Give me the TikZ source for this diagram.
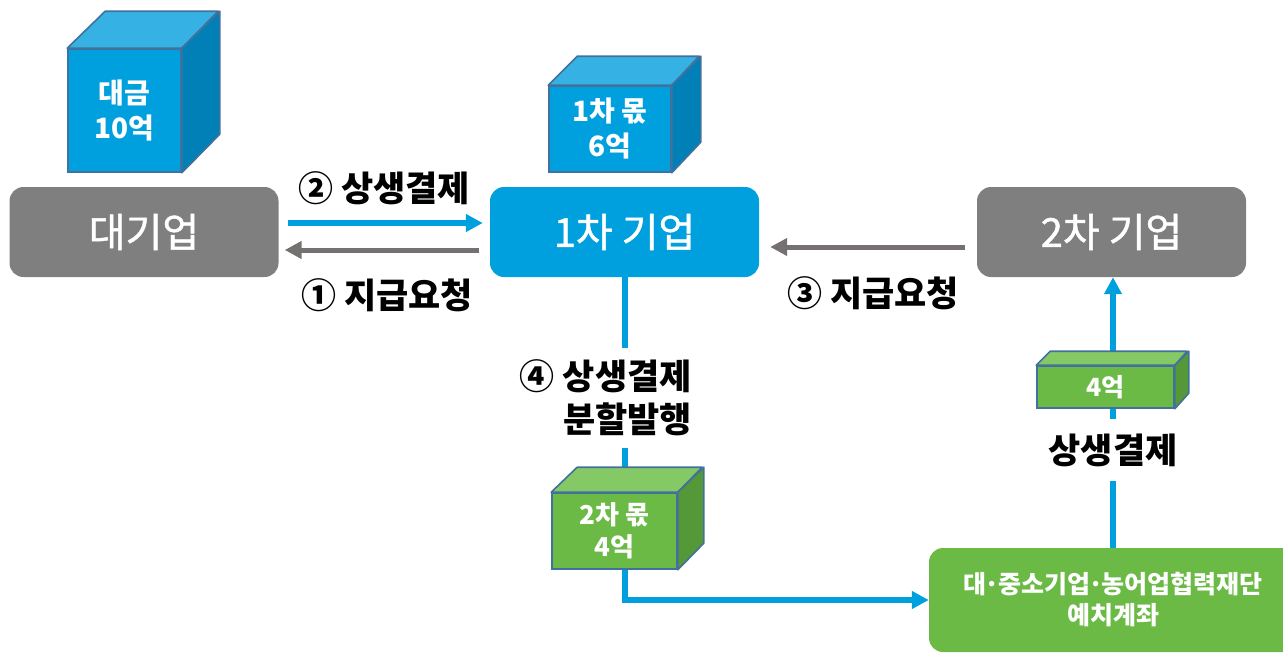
\documentclass[tikz,border=0pt]{standalone}
\usepackage{fontspec}
\setmainfont{Noto Sans CJK KR}
\newfontfamily\krmed{Noto Sans CJK KR}[FakeBold=1.2]
\usetikzlibrary{arrows.meta}
\definecolor{cblue}{RGB}{0,160,223}
\definecolor{cbluetop}{RGB}{53,177,227}
\definecolor{cblueside}{RGB}{0,128,182}
\definecolor{cgreen}{RGB}{107,186,69}
\definecolor{cgreentop}{RGB}{133,200,102}
\definecolor{cgreenside}{RGB}{84,152,55}
\definecolor{cedge}{RGB}{65,113,156}
\definecolor{cboxgray}{RGB}{127,127,127}
\definecolor{carrowgray}{RGB}{118,113,113}
\begin{document}
\begin{tikzpicture}[x=1pt,y=-1pt,
  box/.style={rounded corners=14pt, minimum width=269pt, minimum height=90pt, inner sep=0pt,
    text=white, font=\krmed\fontsize{40}{44}\selectfont},
  cubefront/.style={draw=cedge, line width=1.6pt, text=white, align=center, inner sep=0pt,
    font=\bfseries\fontsize{28}{35}\selectfont},
  face/.style={draw=cedge, line width=1.6pt, line join=round},
  bluearrow/.style={draw=cblue, line width=6pt, -{Triangle[length=17pt,width=17pt]}},
  grayarrow/.style={draw=carrowgray, line width=5pt, -{Triangle[length=17pt,width=17pt]}},
  lbl/.style={text=black, font=\bfseries\fontsize{35}{43}\selectfont, inner sep=0pt}
]
\useasboundingbox (0,0) rectangle (1283,653);
\clip (0,0) rectangle (1283,653);

% main boxes
\node[box, fill=cboxgray] (big) at (144,232) {대기업};
\node[box, fill=cblue] (first) at (624.5,232) {1차 기업};
\node[box, fill=cboxgray] (second) at (1111.5,232) {2차 기업};
\node[rounded corners=14pt, fill=cgreen, minimum width=368pt, minimum height=104pt, inner sep=0pt,
  text=white, align=center, font=\bfseries\fontsize{25}{31}\selectfont] (fund) at (1113,600)
  {대\kern-2pt·\kern-2pt중소기업\kern-2pt·\kern-2pt농어업협력재단\\예치계좌};

% connectors
\draw[bluearrow] ([xshift=9pt,yshift=9pt]big.east) -- ([xshift=-7pt,yshift=9pt]first.west);
\draw[grayarrow] ([xshift=-11pt,yshift=-18pt]first.west) -- ([xshift=6pt,yshift=-18pt]big.east);
\draw[grayarrow] ([xshift=-12pt,yshift=-15pt]second.west) -- ([xshift=11pt,yshift=-15pt]first.east);
\draw[bluearrow] (first.south) |- (fund.west);
\draw[bluearrow] (fund.north) -- (fund.north |- second.south);

% labels
\node[lbl] (l2) at (384,188) {② 상생결제};
\node[lbl] (l1) at (387,295) {① 지급요청};
\node[lbl] (l3) at (873,293) {③ 지급요청};
\node[lbl, anchor=east, align=right, fill=white, inner ysep=12pt, inner xsep=2pt] (l4) at (694,398)
  {④ 상생결제\\분할발행};
\node[lbl, fill=white, inner ysep=15pt, inner xsep=2pt] (l5) at (1113,450) {상생결제};

% cube 1: 대금 10억
\node[cubefront, fill=cblue, minimum width=113pt, minimum height=123pt] (c1) at (124.5,110.5) {대금\\10억};
\filldraw[face, fill=cbluetop] (c1.north west) -- ++(38,-37) -- ++(113,0) -- (c1.north east) -- cycle;
\filldraw[face, fill=cblueside] (c1.north east) -- ++(38,-37) -- ++(0,123) -- (c1.south east) -- cycle;

% cube 2: 1차 몫 6억
\node[cubefront, fill=cblue, minimum width=122pt, minimum height=86pt] (c2) at (610,129) {1차 몫\\6억};
\filldraw[face, fill=cbluetop] (c2.north west) -- ++(29,-29) -- ++(122,0) -- (c2.north east) -- cycle;
\filldraw[face, fill=cblueside] (c2.north east) -- ++(29,-29) -- ++(0,86) -- (c2.south east) -- cycle;

% cube 3: 2차 몫 4억
\node[cubefront, fill=cgreen, minimum width=125pt, minimum height=76pt, font=\bfseries\fontsize{26}{32}\selectfont] (c3) at (614.5,531) {2차 몫\\4억};
\filldraw[face, fill=cgreentop] (c3.north west) -- ++(26,-25) -- ++(125,0) -- (c3.north east) -- cycle;
\filldraw[face, fill=cgreenside] (c3.north east) -- ++(26,-25) -- ++(0,76) -- (c3.south east) -- cycle;

% cube 4: 4억
\node[cubefront, fill=cgreen, minimum width=137pt, minimum height=42pt, font=\bfseries\fontsize{25}{30}\selectfont] (c4) at (1105.5,387) {4억};
\filldraw[face, fill=cgreentop] (c4.north west) -- ++(14,-14) -- ++(137,0) -- (c4.north east) -- cycle;
\filldraw[face, fill=cgreenside] (c4.north east) -- ++(14,-14) -- ++(0,42) -- (c4.south east) -- cycle;
\end{tikzpicture}
\end{document}
